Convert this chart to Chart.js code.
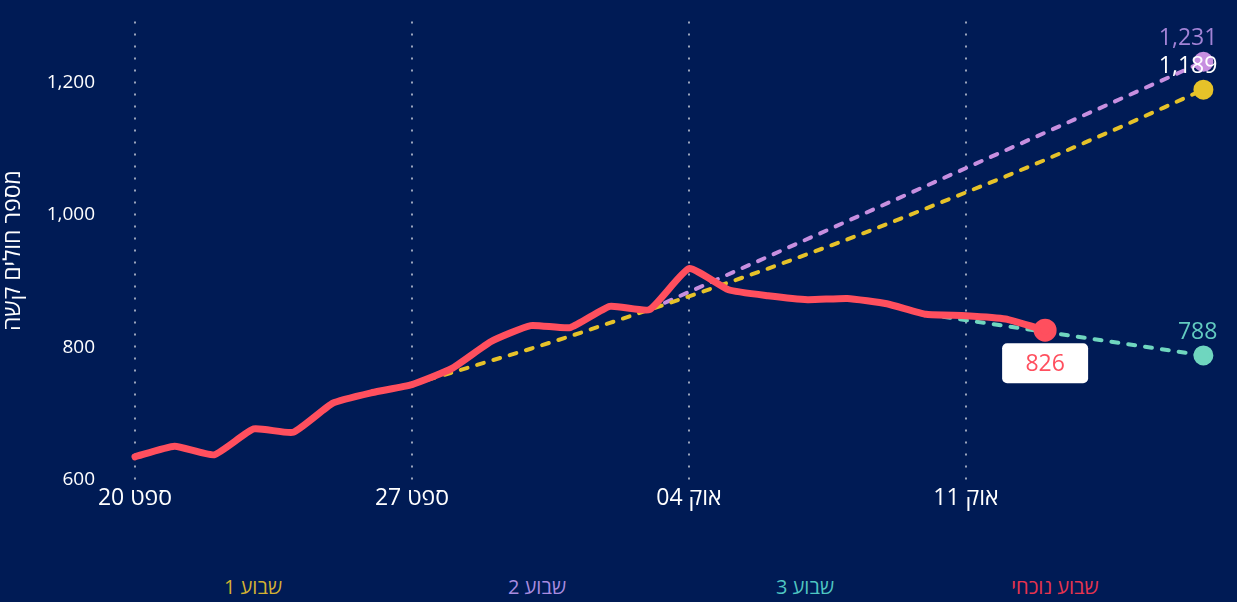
<!DOCTYPE html>
<html>
<head>
<meta charset="utf-8">
<script src="https://cdn.jsdelivr.net/npm/chart.js@4"></script>
<style>
  body { margin: 0; background: #001b55; width: 1237px; height: 602px; overflow: hidden; font-family: "Open Sans", "DejaVu Sans", sans-serif; }
  #chart { position: absolute; left: 0; top: 0; }
  .wk { position: absolute; top: 573px; font-size: 20px; transform: translateX(-50%); direction: rtl; white-space: nowrap; }
</style>
</head>
<body>
<canvas id="chart" width="1237" height="530"></canvas>
<span class="wk" style="left:253px;color:#d4b132">שבוע 1</span>
<span class="wk" style="left:537px;color:#a98ce0">שבוע 2</span>
<span class="wk" style="left:805px;color:#4fc6c2">שבוע 3</span>
<span class="wk" style="left:1055px;color:#e8344f">שבוע נוכחי</span>
<script>
  // days counted from ספט 20
  const tickDays = [0, 7, 14, 21];
  const tickLabels = ["ספט 20", "ספט 27", "אוק 04", "אוק 11"];
  const yTicks = [600, 800, 1000, 1200];

  // ספט 20 .. אוק 13
  const currentWeek = [
    635, 651, 638, 677, 672, 716, 732, 744, 768, 809, 833, 830,
    862, 857, 919, 887, 878, 872, 874, 866, 850, 848, 843, 826,
  ];
  // ספט 27 .. אוק 17
  const week1Start = 7;
  const week1 = [
    744, 762, 780, 798, 817, 837, 857, 877, 898, 919, 941,
    963, 986, 1010, 1034, 1058, 1083, 1109, 1135, 1162, 1189,
  ];
  const week2Days = [13, 27];
  const week2 = [857, 1231];
  const week3Days = [20, 27];
  const week3 = [850, 788];

  const toPoints = (days, vals) => vals.map((v, i) => ({ x: days[i], y: v }));
  const fromDay = (start, vals) => vals.map((v, i) => ({ x: start + i, y: v }));
  const lastOnly = (r) => (ctx) => ctx.dataIndex === ctx.dataset.data.length - 1 ? r : 0;

  const FONT = "'Open Sans', 'DejaVu Sans', sans-serif";

  const endLabels = {
    id: "endLabels",
    afterDatasetsDraw(chart) {
      const ctx = chart.ctx;
      chart.data.datasets.forEach((ds, i) => {
        const meta = chart.getDatasetMeta(i);
        const pt = meta.data[meta.data.length - 1];
        const txt = ds.data[ds.data.length - 1].y.toLocaleString("en-US");
        ctx.save();
        ctx.font = "23px " + FONT;
        ctx.textBaseline = "middle";
        if (ds.boxLabel) {
          const w = 86, h = 40, cx = pt.x, cy = pt.y + 33;
          ctx.fillStyle = "#ffffff";
          ctx.beginPath();
          ctx.roundRect(cx - w / 2, cy - h / 2, w, h, 5);
          ctx.fill();
          ctx.fillStyle = ds.labelColor;
          ctx.textAlign = "center";
          ctx.fillText(txt, cx, cy + 1);
        } else {
          ctx.fillStyle = ds.labelColor;
          ctx.textAlign = "right";
          ctx.fillText(txt, pt.x + 14, pt.y - 23);
        }
        ctx.restore();
      });
    },
  };

  const dashed = {
    borderWidth: 4,
    borderDash: [7, 10],
    borderCapStyle: "round",
    pointRadius: lastOnly(8),
  };

  new Chart(document.getElementById("chart"), {
    type: "line",
    data: {
      datasets: [
        {
          label: "שבוע נוכחי",
          data: fromDay(0, currentWeek),
          borderColor: "#ff4f5e",
          backgroundColor: "#ff4f5e",
          borderWidth: 7,
          tension: 0.15,
          pointRadius: lastOnly(8),
          pointHoverRadius: 0,
          borderCapStyle: "round",
          borderJoinStyle: "round",
          boxLabel: true,
          labelColor: "#ff4f5e",
          order: 0,
        },
        {
          label: "שבוע 1",
          data: fromDay(week1Start, week1),
          borderColor: "#e6c229",
          backgroundColor: "#e6c229",
          ...dashed,
          labelColor: "#ffffff",
          order: 1,
        },
        {
          label: "שבוע 2",
          data: toPoints(week2Days, week2),
          borderColor: "#c78fe0",
          backgroundColor: "#c78fe0",
          ...dashed,
          labelColor: "#a283d6",
          order: 2,
        },
        {
          label: "שבוע 3",
          data: toPoints(week3Days, week3),
          borderColor: "#6fd6bf",
          backgroundColor: "#6fd6bf",
          ...dashed,
          labelColor: "#62cbc0",
          order: 3,
        },
      ],
    },
    options: {
      responsive: false,
      animation: false,
      locale: "en-US",
      layout: { padding: { top: 20, right: 10, left: 0, bottom: 0 } },
      plugins: { legend: { display: false }, tooltip: { enabled: false } },
      scales: {
        x: {
          type: "linear",
          min: -0.758,
          max: 27.47,
          afterBuildTicks: (s) => { s.ticks = tickDays.map((v) => ({ value: v })); },
          afterFit: (s) => { s.height = 50; },
          ticks: {
            color: "#ffffff",
            font: { family: FONT, size: 23 },
            padding: 5,
            maxRotation: 0,
            callback: (v) => tickLabels[tickDays.indexOf(v)],
          },
          grid: {
            color: "rgba(255,255,255,0.6)",
            lineWidth: 2,
            drawTicks: false,
          },
          border: { display: false, dash: [2, 10] },
        },
        y: {
          min: 600,
          max: 1292,
          afterBuildTicks: (s) => { s.ticks = yTicks.map((v) => ({ value: v })); },
          afterFit: (s) => { s.width = 105; },
          ticks: {
            color: "#ffffff",
            font: { family: FONT, size: 19 },
            padding: 10,
          },
          grid: { display: false, drawTicks: false },
          border: { display: false },
          title: {
            display: true,
            text: "מספר חולים קשה",
            color: "#ffffff",
            font: { family: FONT, size: 23 },
            padding: 0,
          },
        },
      },
    },
    plugins: [endLabels],
  });
</script>
</body>
</html>
